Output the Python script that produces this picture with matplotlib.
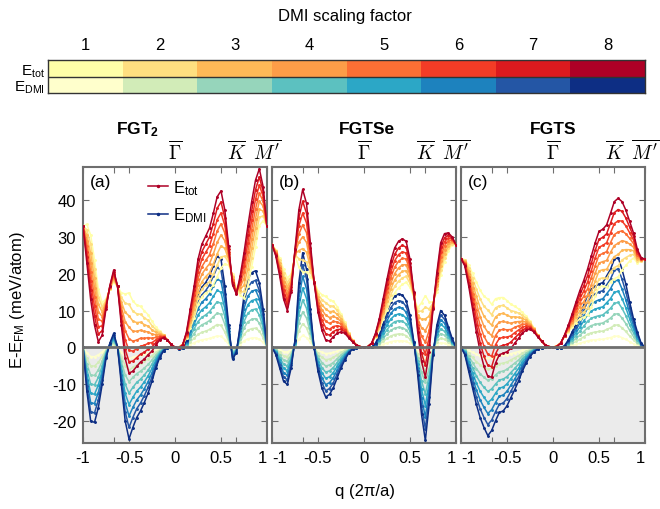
import numpy as np
import matplotlib
matplotlib.use("Agg")
import matplotlib.pyplot as plt
from matplotlib.patches import Rectangle
from matplotlib.lines import Line2D

plt.rcParams['font.family'] = ['Liberation Sans', 'DejaVu Sans']
plt.rcParams['mathtext.fontset'] = 'custom'
plt.rcParams['mathtext.rm'] = 'Liberation Sans'
plt.rcParams['mathtext.it'] = 'Liberation Sans:italic'
plt.rcParams['mathtext.bf'] = 'Liberation Sans:bold'

# wave vector grid (units of 2pi/a), path M' - K - Gamma - K - M'
q = np.linspace(-1, 1, 49)
scales = [1, 2, 3, 4, 5, 6, 7, 8]

# energies at DMI scaling factor 8 (meV/atom)
fgt2_tot8 = [33, 23, 13, 6, 1.5, 3.3, 10.5, 16.7, 21, 16.7, 6, -3, -7, -6.5, -5.2, -4,
             -3.2, -2, -1, 0.6, 2, 2.6, 2, 0.8, 0, -0.3, 0.6, 4.2, 10.5, 16.7, 23.9, 28,
             30.2, 32.4, 36.4, 40.9, 42.5, 37.3, 27.5, 17, 14.5, 19.4, 25.7, 32.9, 39.6,
             45.4, 48.5, 43.6, 32.9]
fgt2_dmi8 = [0, -11.9, -20, -20.4, -16.4, -10.1, -3, 1.1, 3.8, 0.2, -10.1, -20, -24.9,
             -21.8, -19.1, -17.3, -15, -12.4, -9.2, -5.6, -2.8, -1, -0.1, 0.1, 0, -0.5,
             -0.3, 2, 6, 10, 14, 16.3, 17.6, 19.4, 22.1, 24.8, 23.9, 16.7, 6, -3.2, -1.5,
             6, 14, 18.5, 20.3, 20.8, 17.6, 10.5, 0]

fgtse_tot8 = [27.9, 24.8, 19.4, 13.2, 10, 15, 26.6, 37.3, 42.9, 39.1, 28.4, 17.6, 9.6,
              4.7, 2, 1.7, 2.9, 3.8, 4.2, 3.8, 2.6, 1.5, 0.6, 0.2, 0, 0.2, 1.1, 3.8, 7.8,
              13.2, 18.5, 23.5, 27, 28.8, 29.5, 28.8, 23.9, 15, 4.2, -3.8, -8.1, -1.2,
              10.5, 20.3, 28.4, 30.9, 31.1, 30, 27.9]
fgtse_dmi8 = [0, -2, -5.6, -9.2, -10.1, -5.6, 2, 17.6, 25.7, 21.2, 10.5, -0.3, -6.5, -11,
              -13.5, -12.8, -11, -8.3, -5.6, -3.4, -1.6, -0.5, -0.1, 0, 0, 0, 0, 1.1, 3.3,
              6.4, 9.6, 12.3, 13.9, 14.5, 14.2, 12.7, 8.7, 1.5, -7.4, -18.2, -25.3, -15.5,
              -2, 6, 10, 8.7, 5.6, 2.4, 0]

fgts_tot8 = [24.1, 22.1, 16.7, 10.5, 4.2, -1.2, -5.2, -7.9, -8.1, -4.3, -2, -1.6, -1.2,
             -0.3, 1.1, 2.4, 3.8, 4.7, 4.9, 4.2, 2.9, 1.7, 0.6, 0.2, 0, 0.2, 1.1, 3.3, 6,
             9.1, 12.3, 15.4, 18.1, 21.2, 24.8, 28.4, 31.5, 32.1, 33.3, 36.4, 39.6, 40.5,
             39.6, 37.3, 34.2, 31.1, 26.6, 24.4, 23.9]
fgts_dmi8 = [0, -2, -6.5, -11, -15.5, -19.1, -21.8, -24, -22.6, -20, -17.7, -17.3, -15.9,
             -13.7, -11.5, -9.2, -6.5, -4.3, -2.5, -1.3, -0.5, -0.1, 0, 0, 0, -0.3, -0.1,
             0.4, 2, 4.2, 6.4, 8.7, 11.4, 14.1, 15.8, 16.6, 17.2, 17.6, 19.4, 21.2, 23.9,
             24.4, 21.2, 17.2, 12.3, 7.8, 4.2, 1.1, 0]

materials = [r'FGT$_\mathbf{2}$', 'FGTSe', 'FGTS']
panel_tags = ['(a)', '(b)', '(c)']

tot_colors = ['#ffffa8', '#fedf80', '#feb957', '#fd9d48', '#fc6f34', '#f33c26',
              '#dc1a1e', '#ae0026']
dmi_colors = ['#ffffcc', '#d2ecb8', '#96d5bb', '#5cc1c0', '#2ca7c6', '#1d82be',
              '#2456a5', '#0d2e84']

frame_col = '#6e6e6e'
W, H = 660, 510
fig = plt.figure(figsize=(6.6, 5.1), dpi=100)

# ---- colour key for the scaling factor ----
cax = fig.add_axes([48 / W, 1 - 94 / H, 597 / W, 33 / H])
for i, s in enumerate(scales):
    cax.add_patch(Rectangle((s - 0.5, 1), 1, 1, fc=tot_colors[i], ec='none'))
    cax.add_patch(Rectangle((s - 0.5, 0), 1, 1, fc=dmi_colors[i], ec='none'))
cax.set_xlim(0.5, 8.5)
cax.set_ylim(0, 2)
cax.axhline(1, color='#333333', lw=1)
for sp in cax.spines.values():
    sp.set_color('#333333')
    sp.set_linewidth(1)
cax.xaxis.tick_top()
cax.set_xticks(scales)
cax.set_xticklabels([str(s) for s in scales], fontsize=12)
cax.set_yticks([0.5, 1.5])
cax.set_yticklabels([r'E$_\mathrm{DMI}$', r'E$_\mathrm{tot}$'], fontsize=11)
cax.tick_params(length=0, pad=2)
cax.tick_params(axis='x', pad=6)
fig.text(345 / W, 1 - 17 / H, 'DMI scaling factor', ha='center', va='center', fontsize=12)

# ---- energy dispersions ----
panels = [(fgt2_tot8, fgt2_dmi8), (fgtse_tot8, fgtse_dmi8), (fgts_tot8, fgts_dmi8)]
lefts = [83, 272, 461]
title_x = [138, 367, 553]
ylo, yhi = -26, 49

for j, ((tot8, dmi8), left) in enumerate(zip(panels, lefts)):
    ax = fig.add_axes([left / W, 1 - 444 / H, 184 / W, 276 / H])
    tot8 = np.asarray(tot8, float)
    dmi8 = np.asarray(dmi8, float)
    exch = tot8 - dmi8
    ax.axhspan(ylo, 0, color='#ebebeb', zorder=0, lw=0)
    for i, s in enumerate(scales):
        dmi = dmi8 * s / 8
        ax.plot(q, dmi, color=dmi_colors[i], lw=1.1, marker='.', ms=2.2, zorder=2)
    for i, s in enumerate(scales):
        tot = exch + dmi8 * s / 8
        ax.plot(q, tot, color=tot_colors[i], lw=1.1, marker='.', ms=2.2, zorder=3)
    ax.axhline(0, color=frame_col, lw=2, zorder=5)
    ax.set_xlim(-1, 1)
    ax.set_ylim(ylo, yhi)
    ax.set_xticks([-1, -2 / 3, -0.5, 0, 0.5, 2 / 3, 1])
    ax.set_xticklabels(['-1', '', '-0.5', '0', '0.5', '', '1'], fontsize=12)
    labs = ax.get_xticklabels()
    labs[-1].set_horizontalalignment('right')
    if j > 0:
        labs[0].set_horizontalalignment('left')
    ax.set_yticks([-20, -10, 0, 10, 20, 30, 40])
    if j == 0:
        ax.set_yticklabels(['-20', '-10', '0', '10', '20', '30', '40'], fontsize=12)
    else:
        ax.set_yticklabels([])
    ax.tick_params(direction='in', top=True, right=True, length=4, width=0.8,
                   color=frame_col, pad=5)
    for sp in ax.spines.values():
        sp.set_color(frame_col)
        sp.set_linewidth(1.5)
    ax.text(0.04, 0.975, panel_tags[j], transform=ax.transAxes, ha='left', va='top',
            fontsize=12.5)
    xt = ax.get_xaxis_transform()
    for qq, lab in [(0, r'$\overline{\Gamma}$'), (2 / 3, r'$\overline{K}$'),
                    (1, r"$\overline{M'}$")]:
        ax.text(qq, 1.015, lab, transform=xt, ha='center', va='bottom', fontsize=14,
                math_fontfamily='cm')
    fig.text(title_x[j] / W, 1 - 130 / H, materials[j], ha='center', va='center',
             fontsize=12.5, fontweight='bold')
    if j == 0:
        handles = [Line2D([], [], color=tot_colors[-1], lw=1.1, marker='.', ms=3),
                   Line2D([], [], color=dmi_colors[-1], lw=1.1, marker='.', ms=3)]
        ax.legend(handles, [r'E$_\mathrm{tot}$', r'E$_\mathrm{DMI}$'], loc='upper left',
                  bbox_to_anchor=(0.27, 1.015), frameon=False, fontsize=12,
                  handlelength=1.2, handletextpad=0.3, labelspacing=0.55)

fig.text(18 / W, 1 - 300 / H, r'E-E$_\mathrm{FM}$ (meV/atom)', rotation=90,
         ha='center', va='center', fontsize=12)
fig.text(365 / W, 1 - 492 / H, 'q (2π/a)', ha='center', va='center', fontsize=12)

fig.savefig('out.png', dpi=100)
